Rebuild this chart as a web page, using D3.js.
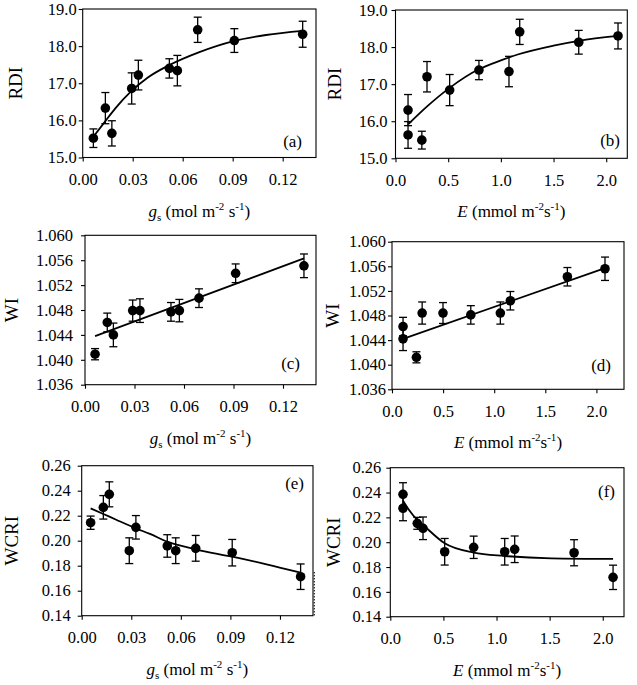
<!DOCTYPE html>
<html><head><meta charset="utf-8">
<script src="https://cdnjs.cloudflare.com/ajax/libs/d3/7.8.5/d3.min.js"></script>
<style>
body{margin:0;background:#fff;}
svg{display:block;}
text{font-family:"Liberation Serif","Times New Roman",serif;fill:#000;}
</style></head>
<body>
<svg id="chart" width="637" height="685"></svg>
<script>
// ---------- DATA ----------
// (a) RDI vs gs
const gsA   = [0.0064, 0.0136, 0.0175, 0.0294, 0.0334, 0.0520, 0.0568, 0.0690, 0.0910, 0.1320];
const rdiA  = [15.52, 16.33, 15.65, 16.86, 17.22, 17.40, 17.34, 18.44, 18.15, 18.32];
const rdiErrA = [0.25, 0.42, 0.34, 0.42, 0.40, 0.26, 0.41, 0.34, 0.32, 0.35];
const fitGsA  = [0.0064, 0.0136, 0.0197, 0.029, 0.0389, 0.052, 0.070, 0.090, 0.110, 0.132];
const fitRdiA = [15.56, 15.98, 16.33, 16.78, 17.15, 17.49, 17.84, 18.13, 18.30, 18.41];

// (b) RDI vs E
const eB    = [0.119, 0.119, 0.250, 0.299, 0.514, 0.792, 1.077, 1.179, 1.739, 2.112];
const rdiB  = [16.30, 15.63, 15.49, 17.20, 16.84, 17.38, 17.34, 18.41, 18.13, 18.30];
const rdiErrB = [0.42, 0.36, 0.24, 0.41, 0.42, 0.26, 0.41, 0.34, 0.32, 0.35];
const fitEB   = [0.125, 0.30, 0.514, 0.79, 1.00, 1.16, 1.50, 1.74, 2.11];
const fitRdiB = [15.93, 16.40, 16.90, 17.40, 17.64, 17.80, 18.04, 18.17, 18.30];

// (c) WI vs gs
const gsC   = [0.0061, 0.0135, 0.0172, 0.0289, 0.0333, 0.0521, 0.0572, 0.0691, 0.0913, 0.1327];
const wiC   = [1.0409, 1.0460, 1.0440, 1.0479, 1.0479, 1.0477, 1.0479, 1.0499, 1.0539, 1.0551];
const wiErrC = [0.0009, 0.0015, 0.0019, 0.0017, 0.0019, 0.0015, 0.0018, 0.0015, 0.0015, 0.0019];
const fitGsC = [0.0061, 0.1327];
const fitWiC = [1.0438, 1.0563];

// (d) WI vs E
const eD    = [0.108, 0.108, 0.239, 0.295, 0.499, 0.771, 1.060, 1.158, 1.716, 2.084];
const wiD   = [1.0462, 1.0442, 1.0412, 1.0484, 1.0484, 1.0481, 1.0484, 1.0504, 1.0543, 1.0556];
const wiErrD = [0.0015, 0.0019, 0.0009, 0.0018, 0.0017, 0.0015, 0.0018, 0.0015, 0.0015, 0.0019];
const fitED  = [0.108, 2.084];
const fitWiD = [1.0442, 1.0557];

// (e) WCRI vs gs
const gsE   = [0.0054, 0.0131, 0.0167, 0.0288, 0.0328, 0.0518, 0.0569, 0.0690, 0.0911, 0.1325];
const wcriE = [0.2144, 0.2267, 0.2371, 0.1920, 0.2107, 0.1958, 0.1920, 0.1939, 0.1904, 0.1712];
const wcriErrE = [0.0053, 0.0094, 0.0100, 0.0103, 0.0094, 0.0090, 0.0103, 0.0103, 0.0106, 0.0102];
const fitGsE   = [0.0054, 0.0131, 0.0212, 0.0328, 0.0413, 0.0518, 0.0689, 0.0911, 0.1119, 0.1325];
const fitWcriE = [0.2259, 0.2214, 0.2166, 0.2099, 0.2054, 0.1992, 0.1931, 0.1872, 0.1811, 0.1744];

// (f) WCRI vs E
const eF    = [0.1195, 0.1195, 0.254, 0.308, 0.512, 0.785, 1.077, 1.171, 1.730, 2.097];
const wcriF = [0.2386, 0.2273, 0.2152, 0.2112, 0.1923, 0.1959, 0.1923, 0.1943, 0.1915, 0.1717];
const wcriErrF = [0.0093, 0.0100, 0.0048, 0.0091, 0.0107, 0.0090, 0.0107, 0.0107, 0.0105, 0.0098];
const fitEF    = [0.120, 0.180, 0.254, 0.308, 0.512, 0.785, 1.077, 1.516, 2.097];
const fitWcriF = [0.2335, 0.2255, 0.2179, 0.2139, 0.1991, 0.1916, 0.1889, 0.1870, 0.1865];

// tick values
const gsTicks   = [0, 0.03, 0.06, 0.09, 0.12];
const eTicks    = [0, 0.5, 1.0, 1.5, 2.0];
const rdiTicks  = [15, 16, 17, 18, 19];
const wiTicks   = [1.036, 1.040, 1.044, 1.048, 1.052, 1.056, 1.060];
const wcriTicks = [0.14, 0.16, 0.18, 0.20, 0.22, 0.24, 0.26];

// ---------- LAYOUT ----------
const panels = [
  {tag:"(a)", L:82.7, R:316,   T:9,     B:157.5, xMax:0.14, xType:"gs", x:gsA, y:rdiA, err:rdiErrA, fx:fitGsA, fy:fitRdiA,
   yDom:[15,19], yT:rdiTicks, yFmt:".1f", yTitle:"RDI", yTitleX:15, yGap:6, tagX:302, tagY:147},
  {tag:"(b)", L:395.5, R:627.3, T:10,   B:158.3, xMax:2.2, xType:"E", x:eB, y:rdiB, err:rdiErrB, fx:fitEB, fy:fitRdiB,
   yDom:[15,19], yT:rdiTicks, yFmt:".1f", yTitle:"RDI", yTitleX:334.5, yGap:8, tagX:620, tagY:146},
  {tag:"(c)", L:85, R:316,      T:235.3, B:384.7, xMax:0.14, xType:"gs", x:gsC, y:wiC, err:wiErrC, fx:fitGsC, fy:fitWiC,
   yDom:[1.036,1.060], yT:wiTicks, yFmt:".3f", yTitle:"WI", yTitleX:11.7, yGap:12, tagX:300, tagY:369},
  {tag:"(d)", L:392, R:624,     T:241.7, B:389.3, xMax:2.27, xType:"E", x:eD, y:wiD, err:wiErrD, fx:fitED, fy:fitWiD,
   yDom:[1.036,1.060], yT:wiTicks, yFmt:".3f", yTitle:"WI", yTitleX:332, yGap:6, tagX:611, tagY:371},
  {tag:"(e)", L:81.7, R:313,    T:465.7, B:615.7, xMax:0.14, xType:"gs", x:gsE, y:wcriE, err:wcriErrE, fx:fitGsE, fy:fitWcriE,
   yDom:[0.14,0.26], yT:wcriTicks, yFmt:".2f", yTitle:"WCRI", yTitleX:11.7, yGap:11, tagX:304, tagY:489, dashedRight:true},
  {tag:"(f)", L:390.3, R:624,   T:467.7, B:616.7, xMax:2.2, xType:"E", x:eF, y:wcriF, err:wcriErrF, fx:fitEF, fy:fitWcriF,
   yDom:[0.14,0.26], yT:wcriTicks, yFmt:".2f", yTitle:"WCRI", yTitleX:333, yGap:9, tagX:615, tagY:497}
];

const svg = d3.select("#chart");
const TICK_FS = 16.5, TITLE_FS = 19, LABEL_FS = 17;

function xLabel(g, type, cx, y){
  const t = g.append("text").attr("x", cx).attr("y", y).attr("text-anchor","middle")
    .style("font-size", LABEL_FS+"px");
  const sub = 11;
  if(type === "gs"){
    t.append("tspan").style("font-style","italic").text("g");
    t.append("tspan").style("font-size", sub+"px").attr("dy", 4).text("s");
    t.append("tspan").attr("dy", -4).text(" (mol m");
    t.append("tspan").style("font-size", sub+"px").attr("dy", -7).text("-2");
    t.append("tspan").attr("dy", 7).text(" s");
    t.append("tspan").style("font-size", sub+"px").attr("dy", -7).text("-1");
    t.append("tspan").attr("dy", 7).text(")");
  } else {
    t.append("tspan").style("font-style","italic").text("E");
    t.append("tspan").text(" (mmol m");
    t.append("tspan").style("font-size", sub+"px").attr("dy", -7).text("-2");
    t.append("tspan").attr("dy", 7).text("s");
    t.append("tspan").style("font-size", sub+"px").attr("dy", -7).text("-1");
    t.append("tspan").attr("dy", 7).text(")");
  }
}

panels.forEach(p => {
  const g = svg.append("g");
  const xs = d3.scaleLinear().domain([0, p.xMax]).range([p.L, p.R]);
  const ys = d3.scaleLinear().domain(p.yDom).range([p.B, p.T]);

  // frame
  g.append("rect").attr("x", p.L).attr("y", p.T).attr("width", p.R - p.L).attr("height", p.B - p.T)
    .attr("fill","none").attr("stroke","#000").attr("stroke-width",1.1);
  if(p.dashedRight){
    g.append("line").attr("x1", p.R+1.3).attr("x2", p.R+1.3).attr("y1", ys(0.175)).attr("y2", p.B)
      .attr("stroke","#000").attr("stroke-width",1).attr("stroke-dasharray","1.5,1.5");
  }

  // axes
  const xAxis = d3.axisBottom(xs).tickValues(p.xType==="gs"?gsTicks:eTicks)
    .tickFormat(d3.format(p.xType==="gs"?".2f":".1f")).tickSize(4).tickSizeOuter(0).tickPadding(12);
  const gx = g.append("g").attr("transform",`translate(0,${p.B})`).call(xAxis);
  gx.select(".domain").remove();
  gx.selectAll("line").attr("stroke","#000").attr("stroke-width",1.1);
  gx.selectAll("text").style("font-size", TICK_FS+"px").style("font-family","Liberation Serif");

  const yAxis = d3.axisLeft(ys).tickValues(p.yT).tickFormat(d3.format(p.yFmt))
    .tickSize(4).tickSizeOuter(0).tickPadding(p.yGap - 4);
  const gy = g.append("g").attr("transform",`translate(${p.L},0)`).call(yAxis);
  gy.select(".domain").remove();
  gy.selectAll("line").attr("stroke","#000").attr("stroke-width",1.1);
  gy.selectAll("text").style("font-size", TICK_FS+"px").style("font-family","Liberation Serif");

  // titles
  g.append("text").attr("transform",`translate(${p.yTitleX},${(p.T+p.B)/2}) rotate(-90)`)
    .attr("text-anchor","middle").attr("dominant-baseline","central")
    .style("font-size", TITLE_FS+"px").text(p.yTitle);
  xLabel(g, p.xType, (p.L+p.R)/2, p.B + 59);

  g.append("text").attr("x", p.tagX).attr("y", p.tagY).attr("text-anchor","end")
    .style("font-size", LABEL_FS+"px").text(p.tag);

  // fit line
  const fitData = p.fx.map((v,i)=>[v, p.fy[i]]);
  g.append("path").datum(fitData)
    .attr("d", d3.line().x(d=>xs(d[0])).y(d=>ys(d[1])).curve(d3.curveMonotoneX))
    .attr("fill","none").attr("stroke","#000").attr("stroke-width",1.8);

  // error bars + points
  const pts = p.x.map((v,i)=>({x:v, y:p.y[i], e:p.err[i]}));
  const eb = g.append("g").attr("stroke","#000").attr("stroke-width",1.3);
  pts.forEach(d=>{
    const cx = xs(d.x), y1 = ys(d.y + d.e), y2 = ys(d.y - d.e);
    eb.append("line").attr("x1",cx).attr("x2",cx).attr("y1",y1).attr("y2",y2);
    eb.append("line").attr("x1",cx-4).attr("x2",cx+4).attr("y1",y1).attr("y2",y1);
    eb.append("line").attr("x1",cx-4).attr("x2",cx+4).attr("y1",y2).attr("y2",y2);
  });
  g.append("g").selectAll("circle").data(pts).join("circle")
    .attr("cx", d=>xs(d.x)).attr("cy", d=>ys(d.y)).attr("r", 4.8).attr("fill","#000");
});
</script>
</body></html>
